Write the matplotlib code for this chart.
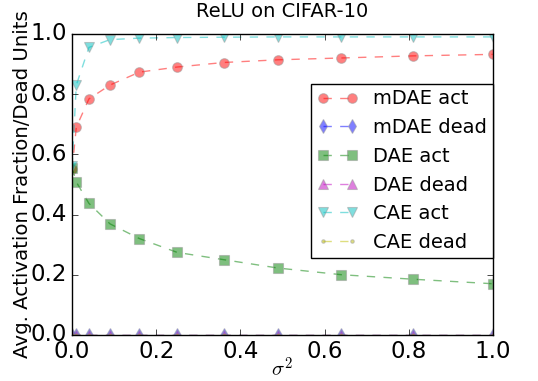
import matplotlib
matplotlib.use('Agg')
import matplotlib.pyplot as plt

plt.style.use('classic')

# noise levels sigma^2
sigma2 = [0.0, 0.01, 0.04, 0.09, 0.16, 0.25, 0.36, 0.49, 0.64, 0.81, 1.0]

mdae_act = [0.55, 0.69, 0.784, 0.83, 0.873, 0.89, 0.905, 0.914, 0.92, 0.927, 0.932]
mdae_dead = [0.0] * 11
dae_act = [0.555, 0.508, 0.437, 0.369, 0.32, 0.274, 0.25, 0.222, 0.2, 0.185, 0.17]
dae_dead = [0.0] * 11
cae_act = [0.56, 0.83, 0.955, 0.981, 0.986, 0.988, 0.989, 0.99, 0.99, 0.99, 0.99]
cae_dead = [0.0] * 11

series = [
	(mdae_act, 'mDAE act', 'r', 'o', 7),
	(mdae_dead, 'mDAE dead', 'b', 'd', 7),
	(dae_act, 'DAE act', 'g', 's', 7),
	(dae_dead, 'DAE dead', 'm', '^', 7),
	(cae_act, 'CAE act', 'c', 'v', 7),
	(cae_dead, 'CAE dead', 'y', '.', 5),
]

fig = plt.figure(figsize=(5.38, 3.81), dpi=100, facecolor='white')
ax = fig.add_axes([0.134, 0.121, 0.782, 0.79])

for vals, lab, col, mk, ms in series:
	ax.plot(sigma2, vals, linestyle='--', color=col, marker=mk, markersize=ms,
		markeredgecolor='#999999', markeredgewidth=0.8, alpha=0.5, label=lab)

ax.set_xlim(0, 1)
ax.set_ylim(0, 1)
ax.set_xticks([0.0, 0.2, 0.4, 0.6, 0.8, 1.0])
ax.set_yticks([0.0, 0.2, 0.4, 0.6, 0.8, 1.0])
ax.tick_params(labelsize=16.5)
ax.set_xlabel(r'$\sigma^2$', fontsize=15)
ax.xaxis.set_label_coords(0.5, -0.072)
ax.set_ylabel('Avg. Activation Fraction/Dead Units', fontsize=14.2)
ax.yaxis.set_label_coords(-0.095, 0.5)
ax.set_title('ReLU on CIFAR-10', fontsize=14, pad=12)
ax.legend(loc='upper right', bbox_to_anchor=(1.0, 0.835), numpoints=2, fontsize=14,
	handlelength=2.1, borderpad=0.3, labelspacing=0.5, borderaxespad=0)

fig.savefig('out.png', dpi=100, facecolor='white')
